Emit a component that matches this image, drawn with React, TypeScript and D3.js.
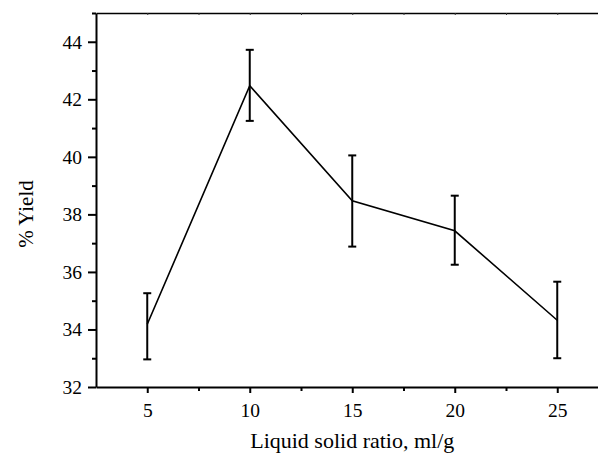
import React, { useEffect, useRef } from 'react';
import * as d3 from 'd3';

// liquid solid ratio (ml/g) vs % yield, with error bars
const ratios = [5, 10, 15, 20, 25];
const yieldMean = [34.18, 42.47, 38.47, 37.43, 34.32];
const yieldLow = [32.96, 41.25, 36.88, 36.25, 33.0];
const yieldHigh = [35.26, 43.72, 40.05, 38.65, 35.66];

const xMajorTicks = [5, 10, 15, 20, 25];
const xMinorTicks = [7.5, 12.5, 17.5, 22.5, 27.5];
const yMajorTicks = [32, 34, 36, 38, 40, 42, 44];
const yMinorTicks = [33, 35, 37, 39, 41, 43, 45];

interface Point {
  x: number;
  y: number;
  lo: number;
  hi: number;
}

const W = 598;
const H = 457;
const FONT = '"Liberation Serif", "Times New Roman", serif';

export default function App() {
  const svgRef = useRef<SVGSVGElement | null>(null);

  useEffect(() => {
    if (!svgRef.current) return;
    const svg = d3.select(svgRef.current);
    svg.selectAll('*').remove();

    const margin = { top: 13, left: 96, bottom: 70 };
    const plotRight = 608.5; // plot runs off the right edge of the picture

    const x = d3.scaleLinear().domain([2.5, 27.5]).range([margin.left, plotRight]);
    const y = d3.scaleLinear().domain([32, 45]).range([H - margin.bottom, margin.top]);

    const data: Point[] = ratios.map((r, i) => ({
      x: r,
      y: yieldMean[i],
      lo: yieldLow[i],
      hi: yieldHigh[i],
    }));

    const styleAxis = (g: d3.Selection<SVGGElement, unknown, null, undefined>) => {
      g.selectAll('text').attr('font-family', FONT).attr('fill', '#000');
      g.selectAll('line').attr('stroke', '#000');
    };

    // top border with tiny ticks
    const top = svg.append('g').attr('transform', `translate(0,${y(45)})`);
    top.call(
      d3.axisTop(x).tickValues([...xMajorTicks, ...xMinorTicks]).tickSize(-2).tickFormat(() => '').tickSizeOuter(0)
    );
    top.select('.domain').attr('stroke', '#000').attr('stroke-width', 1.6);
    top.selectAll('line').attr('stroke', '#333').attr('stroke-width', 1);

    // x axis minor
    const xMinor = svg.append('g').attr('transform', `translate(0,${y(32)})`);
    xMinor.call(d3.axisBottom(x).tickValues(xMinorTicks).tickSize(4).tickFormat(() => '').tickSizeOuter(0));
    xMinor.select('.domain').remove();
    xMinor.selectAll('line').attr('stroke', '#000').attr('stroke-width', 2);

    // x axis major
    const xAxis = svg.append('g').attr('transform', `translate(0,${y(32)})`);
    xAxis.call(d3.axisBottom(x).tickValues(xMajorTicks).tickSize(6).tickPadding(10).tickSizeOuter(0));
    xAxis.select('.domain').attr('stroke', '#000').attr('stroke-width', 2);
    xAxis.selectAll('line').attr('stroke-width', 2);
    xAxis.selectAll('text').attr('font-size', 19.5);
    styleAxis(xAxis);

    // y axis minor
    const yMinor = svg.append('g').attr('transform', `translate(${x(2.5)},0)`);
    yMinor.call(d3.axisLeft(y).tickValues(yMinorTicks).tickSize(4).tickFormat(() => '').tickSizeOuter(0));
    yMinor.select('.domain').remove();
    yMinor.selectAll('line').attr('stroke', '#000').attr('stroke-width', 2);

    // y axis major
    const yAxis = svg.append('g').attr('transform', `translate(${x(2.5)},0)`);
    yAxis.call(d3.axisLeft(y).tickValues(yMajorTicks).tickSize(8).tickPadding(6).tickSizeOuter(0));
    yAxis.select('.domain').attr('stroke', '#000').attr('stroke-width', 2);
    yAxis.selectAll('line').attr('stroke-width', 2);
    yAxis.selectAll('text').attr('font-size', 19.5);
    styleAxis(yAxis);

    // error bars
    const bars = svg.append('g');
    data.forEach(d => {
      bars.append('line')
        .attr('x1', x(d.x)).attr('x2', x(d.x))
        .attr('y1', y(d.lo)).attr('y2', y(d.hi))
        .attr('stroke', '#000').attr('stroke-width', 2);
      [d.lo, d.hi].forEach(v => {
        bars.append('line')
          .attr('x1', x(d.x) - 4).attr('x2', x(d.x) + 4)
          .attr('y1', y(v)).attr('y2', y(v))
          .attr('stroke', '#000').attr('stroke-width', 2);
      });
    });

    // data line
    const line = d3.line<Point>()
      .x(d => x(d.x))
      .y(d => y(d.y));

    svg.append('path')
      .datum(data)
      .attr('fill', 'none')
      .attr('stroke', '#000')
      .attr('stroke-width', 1.6)
      .attr('d', line);

    // axis titles
    svg.append('text')
      .attr('x', (x(2.5) + x(27.5)) / 2)
      .attr('y', 448)
      .attr('text-anchor', 'middle')
      .attr('font-family', FONT)
      .attr('font-size', 22)
      .text('Liquid solid ratio, ml/g');

    svg.append('text')
      .attr('transform', `translate(33,214) rotate(-90)`)
      .attr('text-anchor', 'middle')
      .attr('font-family', FONT)
      .attr('font-size', 21)
      .text('% Yield');
  }, []);

  return (
    <svg
      ref={svgRef}
      width={W}
      height={H}
      style={{ position: 'absolute', left: 0, top: 0, overflow: 'hidden', background: '#fff' }}
    />
  );
}
